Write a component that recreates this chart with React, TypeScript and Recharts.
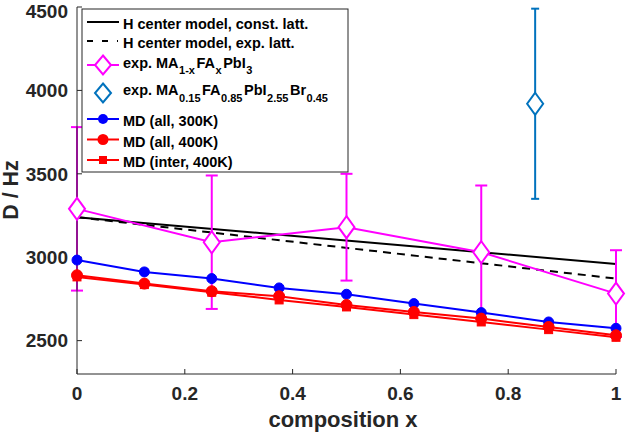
import React from 'react';
import { ComposedChart, Line, XAxis, YAxis, ErrorBar } from 'recharts';

const xTicks = [0, 0.2, 0.4, 0.6, 0.8, 1];
const yTicks = [2500, 3000, 3500, 4000, 4500];

const modelX = [0, 1];
const modelConst = [3240, 2960];
const modelExp = [3240, 2872];

const expX = [0, 0.25, 0.5, 0.75, 1];
const expD = [3290, 3090, 3180, 3030, 2782];
const expErr = [490, 400, 320, 400, 260];

const brX = [0.85];
const brD = [3920];
const brErr = [570];

const mdX = [0, 0.125, 0.25, 0.375, 0.5, 0.625, 0.75, 0.875, 1];
const md300 = [2983, 2912, 2872, 2816, 2778, 2722, 2668, 2612, 2574];
const md400 = [2892, 2842, 2796, 2766, 2714, 2672, 2632, 2582, 2532];
const mdInter = [2882, 2836, 2790, 2744, 2702, 2656, 2612, 2566, 2520];

const FONT = "'Liberation Sans', Arial, Helvetica, sans-serif";
const AX = '#262626';
const MAG = '#FF00FF';
const BLUE_EXP = '#0072BD';
const BLUE = '#0000FF';
const RED = '#FF0000';

const zip = (xs: number[], ys: number[], es?: number[]) =>
  xs.map((x, i) => ({ x, y: ys[i], err: es ? es[i] : 0 }));

const constData = zip(modelX, modelConst);
const expLatData = zip(modelX, modelExp);
const expData = zip(expX, expD, expErr);
const brData = zip(brX, brD, brErr);
const d300 = zip(mdX, md300);
const d400 = zip(mdX, md400);
const dInter = zip(mdX, mdInter);

const diamond = (color: string) => (props: any) => {
  const { cx, cy, index } = props;
  if (cx == null || cy == null) return <g key={`dk${index}`} />;
  return (
    <path
      key={`dm${color}${index}`}
      d={`M${cx},${cy - 11}L${cx + 8},${cy}L${cx},${cy + 11}L${cx - 8},${cy}Z`}
      fill="#fff"
      stroke={color}
      strokeWidth={2}
    />
  );
};

const circle = (color: string, r: number) => (props: any) => {
  const { cx, cy, index } = props;
  if (cx == null || cy == null) return <g key={`ck${index}`} />;
  return <circle key={`c${color}${r}${index}`} cx={cx} cy={cy} r={r} fill={color} stroke={color} />;
};

const square = (color: string, s: number) => (props: any) => {
  const { cx, cy, index } = props;
  if (cx == null || cy == null) return <g key={`sk${index}`} />;
  return <rect key={`s${index}`} x={cx - s / 2} y={cy - s / 2} width={s} height={s} fill={color} stroke={color} />;
};

const tickStyle = { fill: AX, fontSize: 19, fontWeight: 'bold' as const, fontFamily: FONT };

const LFS = 14.5;
const LSUB = 11;

// segments: [text, isSubscript]
const Rich = ({ x, y, segs, drop }: { x: number; y: number; segs: [string, boolean][]; drop: number }) => {
  let prevSub = false;
  return (
    <text x={x} y={y} fontFamily={FONT} fontWeight="bold" fontSize={LFS} fill="#000">
      {segs.map(([t, sub], i) => {
        let dy = 0;
        let dx = 0;
        if (sub && !prevSub) { dy = drop; dx = 0.5; }
        if (!sub && prevSub) { dy = -drop; dx = 1.5; }
        prevSub = sub;
        return (
          <tspan key={i} dx={dx} dy={dy} fontSize={sub ? LSUB : LFS}>
            {t}
          </tspan>
        );
      })}
    </text>
  );
};

const Legend = () => {
  const lx1 = 87;
  const lx2 = 119;
  const lc = 103;
  const tx = 123;
  const textProps = { fontFamily: FONT, fontWeight: 'bold' as const, fontSize: LFS, fill: '#000' };
  return (
    <g>
      <rect x={82} y={9} width={266} height={163} fill="#fff" stroke={AX} strokeWidth={1} />
      <line x1={lx1} x2={lx2} y1={22} y2={22} stroke="#000" strokeWidth={2} />
      <text x={tx} y={29} {...textProps}>H center model, const. latt.</text>
      <line x1={lx1} x2={lx2} y1={41} y2={41} stroke="#000" strokeWidth={2} strokeDasharray="6 9 6 9 1 20" />
      <text x={tx} y={48} {...textProps}>H center model, exp. latt.</text>
      <line x1={lx1} x2={lx2} y1={65} y2={65} stroke={MAG} strokeWidth={2} />
      <path d={`M${lc},${55.5}L${lc + 8},${65}L${lc},${74.5}L${lc - 8},${65}Z`} fill="#fff" stroke={MAG} strokeWidth={2} />
      <Rich x={tx} y={68} drop={6} segs={[['exp. MA', false], ['1-x', true], ['FA', false], ['x', true], ['PbI', false], ['3', true]]} />
      <path d={`M${lc},${83.5}L${lc + 8},${93}L${lc},${102.5}L${lc - 8},${93}Z`} fill="#fff" stroke={BLUE_EXP} strokeWidth={2} />
      <Rich x={tx} y={95} drop={7} segs={[['exp. MA', false], ['0.15', true], ['FA', false], ['0.85', true], ['PbI', false], ['2.55', true], ['Br', false], ['0.45', true]]} />
      <line x1={lx1} x2={lx2} y1={119} y2={119} stroke={BLUE} strokeWidth={2} />
      <circle cx={lc} cy={119} r={5} fill={BLUE} />
      <text x={tx} y={126} {...textProps}>MD (all, 300K)</text>
      <line x1={lx1} x2={lx2} y1={139.5} y2={139.5} stroke={RED} strokeWidth={2} />
      <circle cx={lc} cy={139.5} r={5.5} fill={RED} />
      <text x={tx} y={146.5} {...textProps}>MD (all, 400K)</text>
      <line x1={lx1} x2={lx2} y1={160} y2={160} stroke={RED} strokeWidth={2} />
      <rect x={lc - 4} y={156} width={8} height={8} fill={RED} />
      <text x={tx} y={167} {...textProps}>MD (inter, 400K)</text>
    </g>
  );
};

export default function App() {
  return (
    <div style={{ position: 'absolute', left: 0, top: 0, width: 626, height: 433, background: '#fff' }}>
      <ComposedChart
        width={626}
        height={433}
        margin={{ top: 7, right: 10, bottom: 0, left: 0 }}
      >
        <XAxis
          type="number"
          dataKey="x"
          domain={[0, 1]}
          ticks={xTicks}
          tickFormatter={(v: number) => String(v)}
          height={59}
          tickSize={-5}
          tickMargin={18}
          stroke={AX}
          tick={tickStyle}
        />
        <XAxis
          xAxisId="top"
          orientation="top"
          type="number"
          dataKey="x"
          domain={[0, 1]}
          ticks={xTicks}
          height={0}
          tickSize={5}
          tick={false}
          stroke={AX}
        />
        <YAxis
          type="number"
          domain={[2300, 4500]}
          ticks={yTicks}
          width={77}
          tickSize={-5}
          tickMargin={14}
          stroke={AX}
          tick={tickStyle}
        />
        <YAxis
          yAxisId="right"
          orientation="right"
          type="number"
          domain={[2300, 4500]}
          ticks={yTicks}
          width={0}
          tickSize={5}
          tick={false}
          stroke={AX}
        />
        <Line data={constData} dataKey="y" stroke="#000" strokeWidth={2} dot={false} isAnimationActive={false} />
        <Line data={expLatData} dataKey="y" stroke="#000" strokeWidth={2} strokeDasharray="8 6" dot={false} isAnimationActive={false} />
        <Line data={expData} dataKey="y" stroke={MAG} strokeWidth={2} dot={diamond(MAG)} isAnimationActive={false}>
          <ErrorBar dataKey="err" direction="y" width={6} stroke={MAG} strokeWidth={2} />
        </Line>
        <Line data={brData} dataKey="y" stroke="none" dot={diamond(BLUE_EXP)} isAnimationActive={false}>
          <ErrorBar dataKey="err" direction="y" width={4} stroke={BLUE_EXP} strokeWidth={2} />
        </Line>
        <Line data={d300} dataKey="y" stroke={BLUE} strokeWidth={2} dot={circle(BLUE, 5)} isAnimationActive={false} />
        <Line data={d400} dataKey="y" stroke={RED} strokeWidth={2} dot={circle(RED, 5.5)} isAnimationActive={false} />
        <Line data={dInter} dataKey="y" stroke={RED} strokeWidth={2} dot={square(RED, 8)} isAnimationActive={false} />
      </ComposedChart>
      <svg width={626} height={433} style={{ position: 'absolute', left: 0, top: 0, pointerEvents: 'none' }}>
        <Legend />
        <text x={343} y={427} textAnchor="middle" fontFamily={FONT} fontWeight="bold" fontSize={22} fill={AX}>
          composition x
        </text>
        <text
          x={17.5}
          y={190}
          transform="rotate(-90 17.5 190)"
          textAnchor="middle"
          fontFamily={FONT}
          fontWeight="bold"
          fontSize={21.5}
          fill={AX}
        >
          D / Hz
        </text>
      </svg>
    </div>
  );
}
